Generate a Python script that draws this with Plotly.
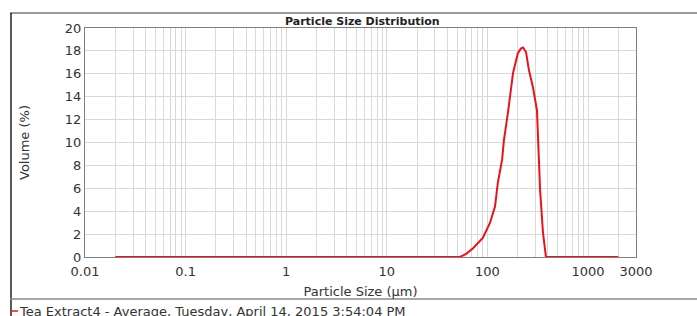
import plotly.graph_objects as go

# Particle size (µm) and volume (%)
size_um = [0.02, 10, 53.5, 62, 72, 90, 106, 119, 127, 140, 146, 160, 180, 201, 215, 226,
           242, 259, 284, 311, 318, 334, 357, 382, 1000, 2000]
volume_pct = [0, 0, 0, 0.3, 0.76, 1.66, 2.97, 4.4, 6.5, 8.5, 10.2, 12.6, 16.1, 17.8, 18.2, 18.3,
              17.9, 16.3, 14.8, 12.8, 10.2, 5.85, 2.1, 0, 0, 0]

x_tick_vals = [0.01, 0.1, 1, 10, 100, 1000, 3000]
x_tick_text = ["0.01", "0.1", "1", "10", "100", "1000", "3000"]
series_name = "Tea Extract4 - Average, Tuesday, April 14, 2015 3:54:04 PM"
title_text = "Particle Size Distribution"

W, H = 697, 316
L, R, T, B = 85, 61, 28, 59
pw, ph = W - L - R, H - T - B

def px(x):
    return (x - L) / pw

def py(y):
    return (H - B - y) / ph

minor_vals = [m * 10 ** e for e in range(-2, 4) for m in range(2, 10) if m * 10 ** e < 3000]

FONT = "DejaVu Sans"
TXT = "#333333"

fig = go.Figure()
fig.add_trace(go.Scatter(
    x=size_um, y=volume_pct, mode="lines", name=series_name,
    line=dict(color="#e8141c", width=2), showlegend=False,
))

fig.update_layout(
    width=W, height=H,
    margin=dict(l=L, r=R, t=T, b=B),
    paper_bgcolor="white", plot_bgcolor="white",
    font=dict(family=FONT, size=13, color=TXT),
    xaxis=dict(
        type="log", range=[-2, 3.4771],
        tickvals=x_tick_vals, ticktext=x_tick_text,
        showgrid=True, gridcolor="#d9d9d9", gridwidth=1,
        minor=dict(tickvals=minor_vals, showgrid=True, gridcolor="#d9d9d9", gridwidth=1),
        showline=True, linecolor="#7f7f7f", linewidth=1, mirror=True,
        ticks="", ticklen=0, zeroline=False, ticklabelstandoff=2,
        tickfont=dict(family=FONT, size=13, color=TXT),
        title=dict(text="Particle Size (µm)", font=dict(family=FONT, size=13, color=TXT), standoff=9),
    ),
    yaxis=dict(
        range=[0, 20], dtick=2,
        showgrid=True, gridcolor="#d9d9d9", gridwidth=1,
        showline=True, linecolor="#7f7f7f", linewidth=1, mirror=True,
        ticks="", zeroline=False,
        tickfont=dict(family=FONT, size=13, color=TXT),
        title=dict(text="Volume (%)", font=dict(family=FONT, size=13, color=TXT), standoff=32),
    ),
    annotations=[
        dict(text="<b>" + title_text + "</b>", xref="paper", yref="paper",
             x=0.503, y=1.0, xanchor="center", yanchor="bottom", yshift=-2,
             showarrow=False, font=dict(family=FONT, size=11, color="#222222")),
        dict(text=series_name, xref="paper", yref="paper",
             x=px(17), y=py(311), xanchor="left", yanchor="middle",
             showarrow=False, font=dict(family=FONT, size=13, color=TXT)),
    ],
    shapes=[
        dict(type="line", xref="paper", yref="paper", x0=px(10), x1=px(697),
             y0=py(13), y1=py(13), line=dict(color="#9a9a9a", width=2)),
        dict(type="line", xref="paper", yref="paper", x0=px(11), x1=px(11),
             y0=py(13), y1=py(316), line=dict(color="#222222", width=1.5)),
        dict(type="line", xref="paper", yref="paper", x0=px(10), x1=px(697),
             y0=py(299), y1=py(299), line=dict(color="#8a8a8a", width=1.5)),
        dict(type="line", xref="paper", yref="paper", x0=px(11), x1=px(18),
             y0=py(311), y1=py(311), line=dict(color="#e8141c", width=1.5)),
    ],
)

fig.write_html(
    "out.html",
    config={"displayModeBar": False},
    post_script="document.body.style.margin='0';document.body.style.overflow='hidden';",
)
